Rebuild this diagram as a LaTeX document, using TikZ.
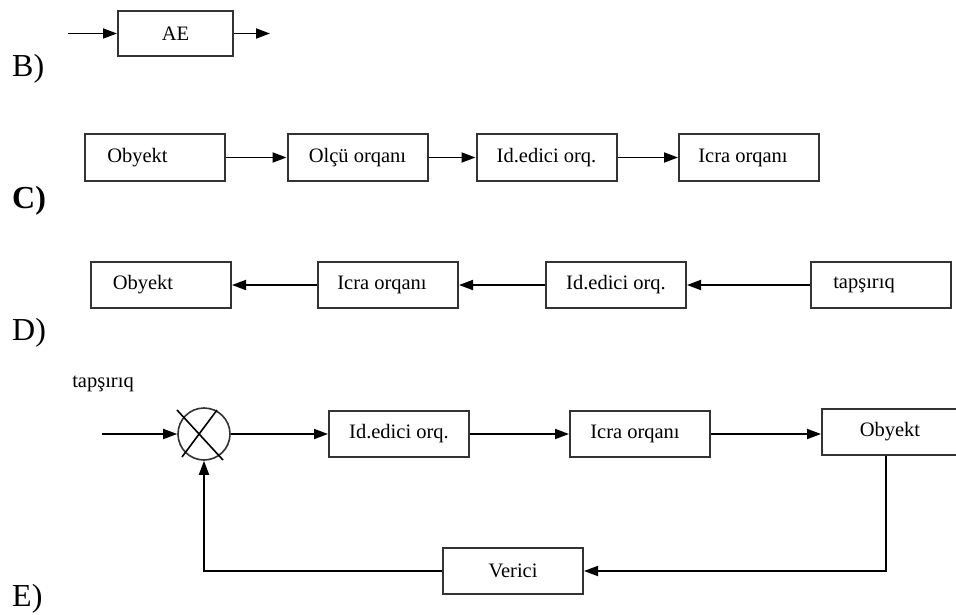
\documentclass[tikz,border=0pt]{standalone}
\usepackage{fontspec}
\setmainfont{Liberation Serif}
\usetikzlibrary{arrows.meta}
% shifts box text left by half the given amount
\newcommand{\txtleft}[1]{\hspace*{-#1}}
\begin{document}
\begin{tikzpicture}[x=1pt,y=-1pt,
  blk/.style={draw=black!80, line width=2pt, minimum width=140pt, minimum height=46pt,
    inner sep=0pt, font=\fontsize{20.5}{22}\selectfont},
  conn/.style={line width=1.8pt, -{Triangle[length=14pt,width=10pt]}},
  wire/.style={line width=1.6pt},
  tag/.style={anchor=base west, inner sep=0pt, font=\fontsize{32}{34}\selectfont}]
\useasboundingbox (0,0) rectangle (956,615);

% ---- B ----
\node[tag] (lb) at (12,77) {B)};
\node[blk, minimum width=115pt, minimum height=45pt] (ae) at (175.5,33.5) {AE};
\coordinate (aein) at (68,33.5);
\coordinate (aeout) at (270,33.5);
\draw[conn] (aein) -- (ae.west);
\draw[conn] (ae.east) -- (aeout);

% ---- C ----
\node[tag, font=\fontsize{32}{34}\selectfont\bfseries] (lc) at (12,208) {C)};
\node[blk] (c1) at (154.5,157.5) {\txtleft{34pt}Obyekt};
\node[blk] (c2) at (357.5,157.5) {Olçü orqanı};
\node[blk] (c3) at (546.5,157.5) {Id.edici orq.};
\node[blk] (c4) at (749,157.5) {\txtleft{12pt}Icra orqanı};
\draw[conn] (c1) -- (c2);
\draw[conn] (c2) -- (c3);
\draw[conn] (c3) -- (c4);

% ---- D ----
\node[tag] (ld) at (12,340) {D)};
\node[blk] (d1) at (161,285) {\txtleft{36pt}Obyekt};
\node[blk] (d2) at (388,285) {\txtleft{12pt}Icra orqanı};
\node[blk] (d3) at (616,285) {Id.edici orq.};
\node[blk] (d4) at (881,285) {\txtleft{34pt}tapşırıq};
\draw[conn] (d4) -- (d3);
\draw[conn] (d3) -- (d2);
\draw[conn] (d2) -- (d1);

% ---- E ----
\node[tag] (le) at (12,606) {E)};
\node[font=\fontsize{20.5}{22}\selectfont, inner sep=0pt] (ein) at (103,384) {tapşırıq};
\coordinate (src) at (102,434);
\node[draw=black!80, line width=1.6pt, circle, minimum size=52pt, inner sep=0pt] (sum) at (204,434) {};
\draw[wire] ([shift={(-27,-24)}]sum.center) -- ([shift={(19,26)}]sum.center);
\draw[wire] ([shift={(13,-24)}]sum.center) -- ([shift={(-22,23)}]sum.center);
\node[blk] (e1) at (399,434) {Id.edici orq.};
\node[blk] (e2) at (640,434) {\txtleft{10pt}Icra orqanı};
\node[blk, minimum width=136pt] (e3) at (890,432) {Obyekt};
\node[blk] (ev) at (513,571) {Verici};
\draw[conn] (src) -- (sum.west);
\draw[conn] (sum.east) -- (e1.west);
\draw[conn] (e1.east) -- (e2.west);
\draw[conn] (e2.east) -- (e3.west |- e2.east);
\draw[conn] ([xshift=-4pt]e3.south) |- (ev.east);
\draw[conn] (ev.west) -| (sum.south);
\end{tikzpicture}
\end{document}
